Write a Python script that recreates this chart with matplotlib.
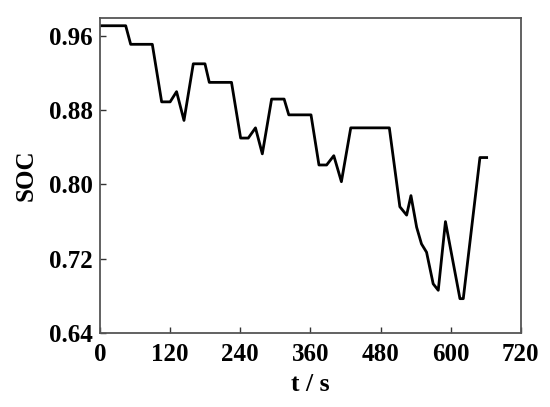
import matplotlib
matplotlib.use("Agg")
import matplotlib.pyplot as plt

t_s = [0, 44, 52.5, 89.5, 105.5, 120, 131, 143.7, 159.6, 179.6, 187, 225, 240.6,
       253.7, 266, 277.7, 293.6, 315, 323, 361, 374.6, 387.7, 400, 413, 429, 495,
       513, 524.6, 532, 541.7, 550, 558.7, 570, 578.7, 591, 615.8, 621.5, 650, 661.5]
soc = [0.971, 0.971, 0.951, 0.951, 0.889, 0.889, 0.900, 0.869, 0.930, 0.930, 0.910,
       0.910, 0.850, 0.850, 0.861, 0.833, 0.892, 0.892, 0.875, 0.875, 0.821, 0.821,
       0.831, 0.803, 0.861, 0.861, 0.776, 0.767, 0.788, 0.754, 0.736, 0.727, 0.693,
       0.686, 0.760, 0.677, 0.677, 0.829, 0.829]

x_ticks = [0, 120, 240, 360, 480, 600, 720]
y_ticks = [0.64, 0.72, 0.80, 0.88, 0.96]
y_tick_labels = ["0.64", "0.72", "0.80", "0.88", "0.96"]

plt.rcParams['font.family'] = ['Liberation Serif', 'DejaVu Serif']
plt.rcParams['font.weight'] = 'bold'

fig = plt.figure(figsize=(5.5, 4.07), dpi=100)
ax = fig.add_axes([0.1818, 0.1818, 0.947 - 0.1818, 0.955 - 0.1818])
ax.plot(t_s, soc, color='black', lw=2.0)
ax.set_xlim(0, 720)
ax.set_ylim(0.64, 0.979)
ax.set_xticks(x_ticks)
ax.set_yticks(y_ticks)
ax.set_yticklabels(y_tick_labels)
ax.tick_params(direction='in', length=4, width=1.0, labelsize=18, colors='#333333',
               labelcolor='black', top=False, right=False)
ax.tick_params(axis='x', pad=7)
ax.tick_params(axis='y', pad=5)
for lbl in ax.get_xticklabels() + ax.get_yticklabels():
    lbl.set_fontweight('bold')
for sp in ax.spines.values():
    sp.set_color('#555555')
    sp.set_linewidth(1.3)
ax.set_xlabel('t / s', fontsize=18.5, fontweight='bold', labelpad=5)
ax.set_ylabel('SOC', fontsize=18, fontweight='bold', labelpad=8)
fig.savefig('out.png', dpi=100)
